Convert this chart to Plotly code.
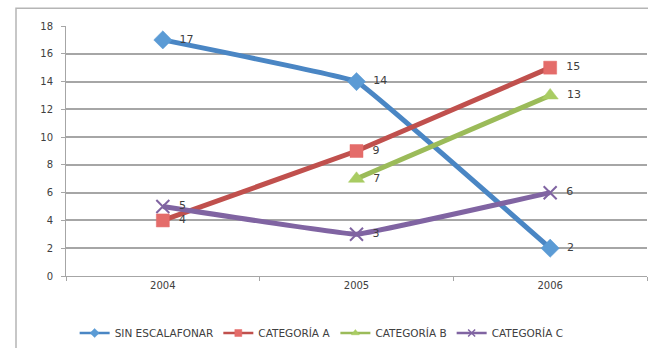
import plotly.graph_objects as go

years = ["2004", "2005", "2006"]
sin_escalafonar = [17, 14, 2]
categoria_a = [4, 9, 15]
categoria_b = [None, 7, 13]
categoria_c = [5, 3, 6]

series = [
    ("SIN ESCALAFONAR", sin_escalafonar, "#4A86C4", "#5B9BD5", "diamond", 14),
    ("CATEGORÍA A", categoria_a, "#C0504D", "#E46C6A", "square", 13),
    ("CATEGORÍA B", categoria_b, "#9BBB59", "#A9CC63", "triangle-up", 14),
    ("CATEGORÍA C", categoria_c, "#8064A2", "#8064A2", "x-thin", 13),
]

fig = go.Figure()
for name, vals, lc, mc, sym, ms in series:
    is_x = sym == "x-thin"
    fig.add_trace(go.Scatter(
        x=years, y=vals, name=name, mode="lines+markers+text", showlegend=False,
        line=dict(color=lc, width=5, shape="spline", smoothing=0.15),
        marker=dict(symbol=sym, size=ms, color=mc,
                    line=dict(color=lc if is_x else mc, width=2 if is_x else 0.5)),
        text=[None if v is None else "  " + str(v) for v in vals],
        textposition="middle right",
        textfont=dict(family="DejaVu Sans", size=11, color="#404040"),
        cliponaxis=False,
        connectgaps=False,
    ))
for name, vals, lc, mc, sym, ms in series:
    is_x = sym == "x-thin"
    fig.add_trace(go.Scatter(
        x=[None], y=[None], name=name, mode="lines+markers", showlegend=True,
        line=dict(color=lc, width=2.5),
        marker=dict(symbol=sym, size=7, color=mc,
                    line=dict(color=lc if is_x else mc, width=1.5 if is_x else 0.5)),
    ))

fig.update_layout(
    width=648, height=348,
    margin=dict(l=66, r=1, t=26, b=70),
    paper_bgcolor="white", plot_bgcolor="white",
    font=dict(family="DejaVu Sans", size=10, color="#404040"),
    showlegend=True,
    legend=dict(orientation="h", x=0.44, xanchor="center", y=-0.17, yanchor="top",
                font=dict(size=10.5, color="#404040"), itemwidth=30, traceorder="normal"),
    xaxis=dict(type="category", range=[-0.5, 2.5], showgrid=False,
               showline=True, linecolor="#a6a6a6", linewidth=1,
               ticks="outside", tickson="boundaries", ticklen=4, tickcolor="#a6a6a6",
               tickfont=dict(size=10, color="#404040"), zeroline=False),
    yaxis=dict(range=[0, 18], dtick=2, showgrid=True, gridcolor="#a6a6a6", gridwidth=1.5,
               showline=True, linecolor="#a6a6a6", linewidth=1,
               ticks="outside", ticklen=4, tickcolor="#a6a6a6",
               ticklabelstandoff=6,
               tickfont=dict(size=10, color="#404040"), zeroline=False),
)

fig.add_shape(type="rect", xref="paper", yref="paper",
              x0=-50/581, x1=1.05, y0=-0.4, y1=270/252,
              line=dict(color="#b5b5b5", width=1.5), fillcolor="rgba(0,0,0,0)", layer="below")

fig.write_html("out.html")
